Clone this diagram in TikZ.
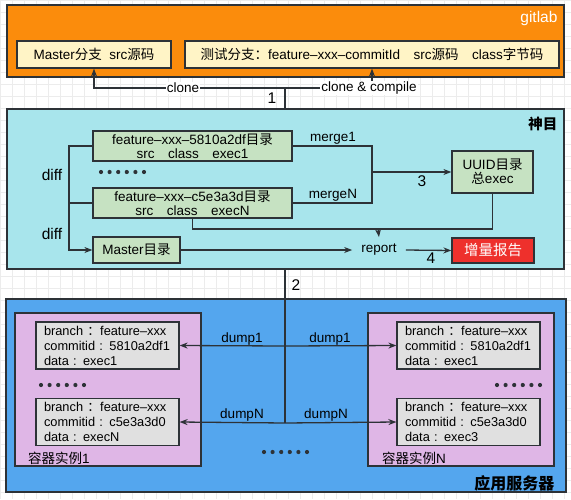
\documentclass[tikz,border=0pt]{standalone}
\usepackage{fontspec}
\setmainfont{Liberation Sans}
\newfontfamily\cjk{Noto Sans CJK SC}
\usetikzlibrary{arrows.meta}

\definecolor{gitorange}{RGB}{251,140,12}
\definecolor{srcyellow}{RGB}{255,244,198}
\definecolor{shencyan}{RGB}{168,229,236}
\definecolor{dirgreen}{RGB}{198,226,194}
\definecolor{reportred}{RGB}{238,48,44}
\definecolor{serverblue}{RGB}{84,166,238}
\definecolor{podpink}{RGB}{223,182,230}
\definecolor{recgray}{RGB}{224,224,224}
\definecolor{edgec}{RGB}{45,50,55}
\definecolor{gridc}{RGB}{236,236,236}

\tikzset{
  panel/.style={draw=edgec, line width=1.5pt, inner sep=0pt},
  box/.style={draw=edgec, line width=1.2pt, inner sep=0pt, align=center},
  record/.style={draw=edgec, line width=1.2pt, fill=recgray, inner xsep=8pt,
    inner ysep=0pt, text width=127pt, align=left, minimum height=47pt,
    font=\fontsize{12.8}{15}\selectfont},
  link/.style={draw=edgec, line width=1.3pt},
  arr/.style={link, -{Stealth[length=8pt,width=6pt]}},
  tag/.style={inner sep=1pt},
  big/.style={font=\fontsize{15.5}{18}\selectfont},
}

\begin{document}
\begin{tikzpicture}[x=1pt,y=-1pt,font=\fontsize{13.5}{15}\selectfont]
  \useasboundingbox (0,0) rectangle (571,499);
  \fill[white] (0,0) rectangle (571,499);
  \draw[gridc, line width=0.5pt, step=12pt] (0,0) grid (571,499);

  % gitlab
  \node[panel, fill=gitorange, minimum width=557pt, minimum height=72pt] (gitlab) at (285.5,41) {};
  \node[anchor=east, text=white, big] (gitlabname) at (561,18) {gitlab};
  \node[box, fill=srcyellow, minimum width=154pt, minimum height=27pt] (master) at (94,54.5)
    {Master{\cjk 分支}\ \ src{\cjk 源码}};
  \node[box, fill=srcyellow, minimum width=374pt, minimum height=27pt] (test) at (372,54.5)
    {{\cjk 测试分支：}feature--xxx--commitId\quad src{\cjk 源码}\quad class{\cjk 字节码}};

  % shenmu
  \node[panel, fill=shencyan, minimum width=557pt, minimum height=160pt] (shenmu) at (285.5,189) {};
  \node[anchor=east, font=\fontsize{14.5}{16}\selectfont\cjk\bfseries] (shenmuname) at (561,124) {神目};

  \begin{scope}[every node/.style={box, fill=dirgreen}]
    \node[minimum width=199pt, minimum height=30pt] (feat1) at (192.5,146)
      {feature--xxx--5810a2df{\cjk 目录}\\[-1.5pt] src\quad class\quad exec1};
    \node[minimum width=199pt, minimum height=30pt] (featN) at (192.5,203)
      {feature--xxx--c5e3a3d{\cjk 目录}\\[-1.5pt] src\quad class\quad execN};
    \node[minimum width=87pt, minimum height=26pt] (masterdir) at (136.5,250) {Master{\cjk 目录}};
    \node[minimum width=81pt, minimum height=42pt] (uuid) at (492.5,172) {UUID{\cjk 目录}\\[-1pt]{\cjk 总}exec};
  \end{scope}
  \node[box, fill=reportred, text=white, minimum width=82pt, minimum height=25pt,
    font=\fontsize{14.5}{16}\selectfont\cjk] (incr) at (493,250.5) {增量报告};
  \node[inner xsep=9pt, inner ysep=7pt] (report) at (379,250) {report};

  \foreach \i in {0,...,5} \fill[edgec] (101+\i*8.6,172) circle (2.1pt);

  \coordinate (dtop) at (69,146);
  \coordinate (dmid) at (69,203);
  \coordinate (dbot) at (69,250);
  \coordinate (mj) at (372,172);
  \coordinate (rj) at (378,229);

  \draw[arr] (feat1.west) -| (dbot) -- (masterdir.west);
  \draw[link] (dmid) -- (featN.west);
  \node[big] (diff1) at (52,175) {diff};
  \node[big] (diff2) at (52,234) {diff};

  \draw[link] (feat1.east) -| (mj);
  \draw[link] (featN.east) -| (mj);
  \draw[arr] (mj) -- (uuid.west);
  \node (merge1) at (333,138) {merge1};
  \node (mergeN) at (333,195) {mergeN};
  \node[big] (step3) at (422,181) {3};

  \draw[link] (featN.south) |- (rj) -| (uuid.south);
  \draw[arr] (rj) -- (report.north);
  \draw[arr] (masterdir.east) -- (report.west);
  \draw[arr] (report.east) -- (incr.west);
  \node[big] (step4) at (431,258) {4};

  % clone
  \coordinate (cj) at (285,88);
  \draw[arr] (cj) -| (master.south);
  \draw[arr] (cj) -| (test.south);
  \draw[link] (cj) -- (cj |- shenmu.north);
  \node[tag, fill=white] (clone) at (183,88) {clone};
  \node[tag, fill=white] (clonecompile) at (369,88) {clone \& compile};
  \node[big] (step1) at (272,98) {1};

  % app server
  \node[panel, fill=serverblue, minimum width=560pt, minimum height=193pt] (server) at (286,395.5) {};
  \node[anchor=east, font=\fontsize{16}{19}\selectfont\cjk\bfseries] (servername) at (558,483) {应用服务器};
  \begin{scope}[every node/.style={panel, line width=1.3pt, fill=podpink, minimum width=186pt, minimum height=153pt}]
    \node (pod1) at (108,389.5) {};
    \node (podN) at (461,389.5) {};
  \end{scope}
  \node[anchor=west, inner sep=0pt, font=\fontsize{13.5}{16}\selectfont] (pod1name) at (28,458) {{\cjk 容器实例}1};
  \node[anchor=west, inner sep=0pt, font=\fontsize{13.5}{16}\selectfont] (podNname) at (382,458) {{\cjk 容器实例}N};

  \node[record] (rec11) at (107.5,345.5)
    {branch {\cjk ：}feature--xxx\\commitid : 5810a2df1\\data : exec1};
  \node[record] (rec1N) at (107.5,422)
    {branch {\cjk ：}feature--xxx\\commitid : c5e3a3d0\\data : execN};
  \node[record] (recN1) at (468.5,345.5)
    {branch {\cjk ：}feature--xxx\\commitid : 5810a2df1\\data : exec1};
  \node[record] (recNN) at (468.5,422)
    {branch {\cjk ：}feature--xxx\\commitid : c5e3a3d0\\data : exec3};

  \foreach \i in {0,...,5} {
    \fill[edgec] (41+\i*8.6,385) circle (2.1pt);
    \fill[edgec] (497+\i*8.6,385) circle (2.1pt);
    \fill[edgec] (264+\i*8.6,452) circle (2.1pt);
  }

  \coordinate (dj1) at (285,346);
  \coordinate (djN) at (285,423);
  \draw[link] (cj |- shenmu.south) -- (djN);
  \node[big] (step2) at (296,285) {2};
  \draw[arr] (dj1) -- (rec11.east);
  \draw[arr] (dj1) -- (recN1.west);
  \draw[arr] (djN) -- (rec1N.east);
  \draw[arr] (djN) -- (recNN.west);
  \node (dump1l) at (242,339) {dump1};
  \node (dump1r) at (330,339) {dump1};
  \node (dumpNl) at (242,415) {dumpN};
  \node (dumpNr) at (326,415) {dumpN};
\end{tikzpicture}
\end{document}
